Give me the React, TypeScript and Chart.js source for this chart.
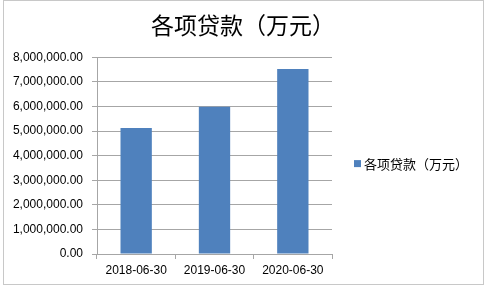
import React, { useEffect, useRef } from "react";
import { Chart, registerables } from "chart.js";

Chart.register(...registerables);

const TITLE = "各项贷款（万元）";
const SERIES_LABEL = "各项贷款（万元）";
const categories = ["2018-06-30", "2019-06-30", "2020-06-30"];
const loans = [5120000, 5990000, 7520000];
const yMin = 0;
const yMax = 8000000;
const yStep = 1000000;

const BAR_COLOR = "#4F81BD";
const GRID_COLOR = "#a6a6a6";

const fmt = (v: number) =>
  v.toLocaleString("en-US", { minimumFractionDigits: 2, maximumFractionDigits: 2 });

const framePlugin = {
  id: "frame",
  beforeDraw(chart: any) {
    const ctx = chart.ctx;
    ctx.save();
    ctx.fillStyle = "#ffffff";
    ctx.fillRect(0, 0, chart.width, chart.height);
    ctx.strokeStyle = "#c8c8c8";
    ctx.lineWidth = 1;
    ctx.strokeRect(3.5, 0.5, chart.width - 6, chart.height - 3);
    ctx.restore();
  },
};

const legendPlugin = {
  id: "customLegend",
  afterDraw(chart: any) {
    const ctx = chart.ctx;
    const ds = chart.data.datasets[0];
    const area = chart.chartArea;
    const x = area.right + 22;
    const y = (area.top + area.bottom) / 2 + 8;
    ctx.save();
    ctx.fillStyle = ds.backgroundColor;
    ctx.fillRect(x, y - 3.5, 7, 7);
    ctx.fillStyle = "#000";
    ctx.font = "13px 'Noto Sans CJK SC'";
    ctx.textBaseline = "middle";
    ctx.textAlign = "left";
    ctx.fillText(ds.label, x + 10, y);
    ctx.restore();
  },
};

export default function App() {
  const ref = useRef<HTMLCanvasElement | null>(null);
  useEffect(() => {
    document.body.style.margin = "0";
    const chart = new Chart(ref.current!, {
      type: "bar",
      data: {
        labels: categories,
        datasets: [
          {
            label: SERIES_LABEL,
            data: loans,
            backgroundColor: BAR_COLOR,
            borderWidth: 0,
            barPercentage: 0.4,
            categoryPercentage: 1,
            yAxisID: "y",
          },
        ],
      },
      options: {
        responsive: false,
        animation: false,
        devicePixelRatio: 1,
        layout: { padding: { left: 0, right: 0, top: 0, bottom: 0 } },
        plugins: {
          legend: { display: false },
          tooltip: { enabled: false },
          title: {
            display: true,
            text: TITLE,
            color: "#000",
            font: { family: "'Noto Sans CJK SC'", size: 23, weight: "normal", lineHeight: 1.2 },
            padding: { top: 11, bottom: 18.6 },
          },
        },
        scales: {
          x: {
            grid: {
              display: true,
              drawOnChartArea: false,
              drawTicks: true,
              tickLength: 5,
              color: GRID_COLOR,
              offset: true,
            },
            border: { display: true, color: GRID_COLOR },
            ticks: {
              color: "#000",
              font: { family: "'Liberation Sans'", size: 12 },
              padding: 4,
              maxRotation: 0,
            },
            afterFit(scale: any) {
              scale.height = 33;
            },
          },
          y: {
            min: yMin,
            max: yMax,
            grid: {
              color: GRID_COLOR,
              drawTicks: true,
              tickLength: 5,
            },
            border: { display: true, color: GRID_COLOR },
            ticks: {
              stepSize: yStep,
              color: "#000",
              font: { family: "'Liberation Sans'", size: 12 },
              padding: 9,
              callback: (v: any) => fmt(Number(v)),
            },
            afterFit(scale: any) {
              scale.width = 97;
            },
          },
          legendSpace: {
            type: "linear",
            position: "right",
            display: true,
            grid: { display: false, drawTicks: false },
            border: { display: false },
            ticks: { display: false },
            afterFit(scale: any) {
              scale.width = 154;
            },
          },
        },
      },
      plugins: [framePlugin, legendPlugin],
    });
    return () => chart.destroy();
  }, []);
  return (
    <div style={{ position: "absolute", left: 0, top: 0, width: 486, height: 287 }}>
      <canvas ref={ref} width={486} height={287} />
    </div>
  );
}
